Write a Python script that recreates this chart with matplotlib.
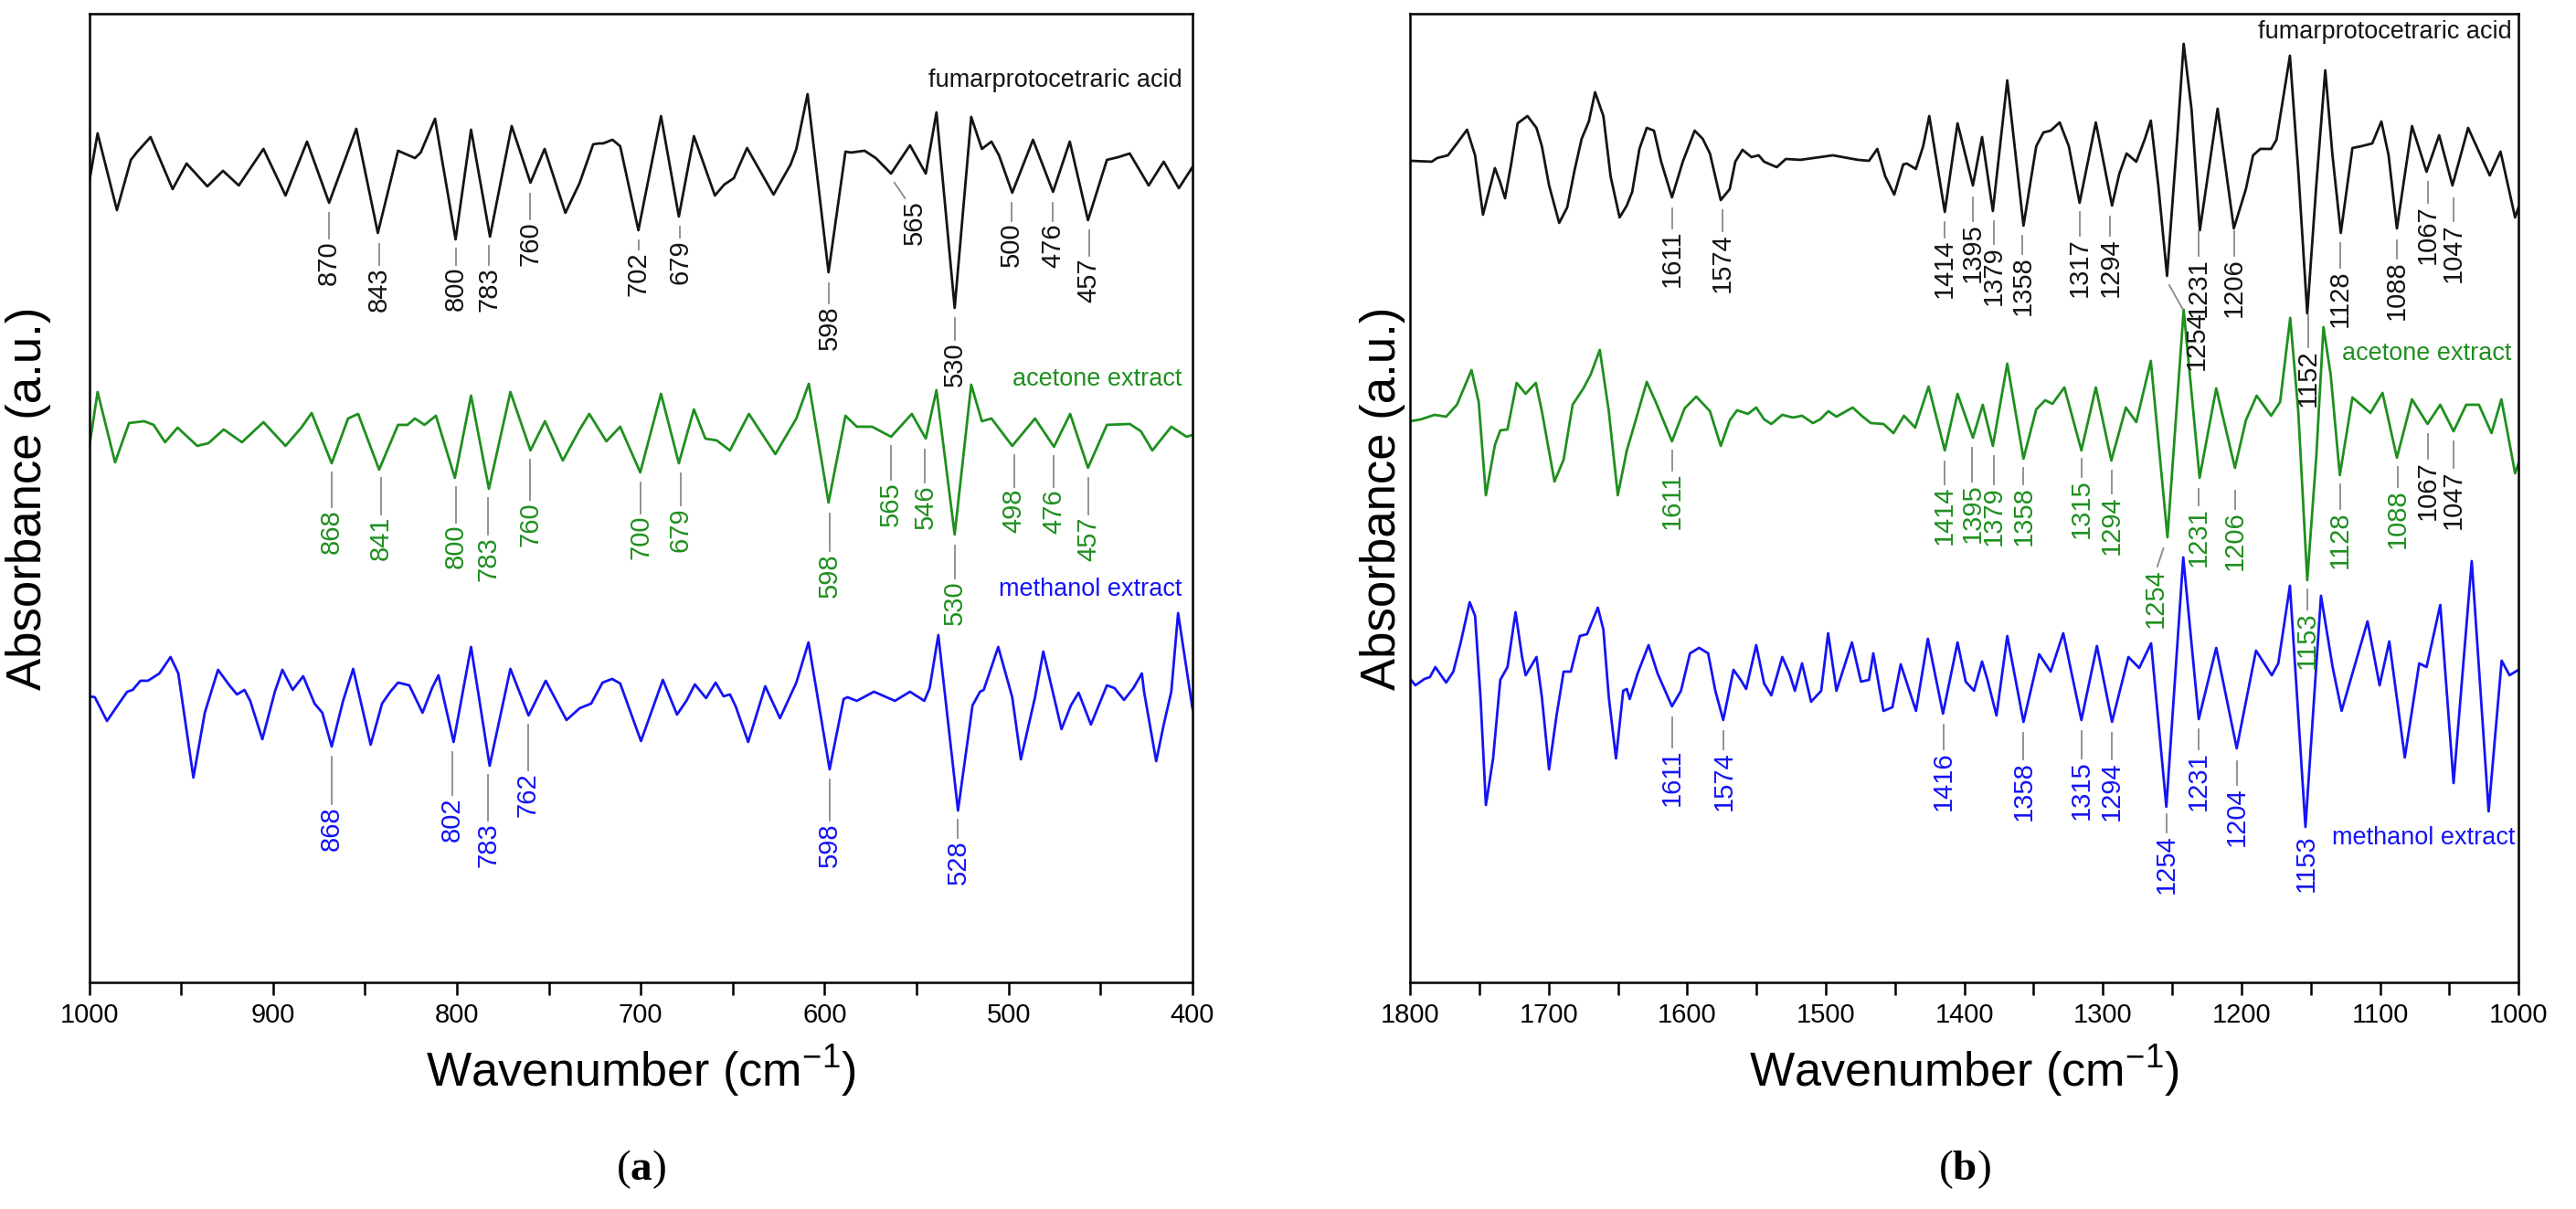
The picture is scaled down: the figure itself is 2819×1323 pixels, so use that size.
import matplotlib
matplotlib.use("Agg")
import matplotlib.pyplot as plt
from matplotlib.ticker import MultipleLocator

plt.rcParams["font.family"] = ["Liberation Sans", "DejaVu Sans"]
plt.rcParams["mathtext.fontset"] = "custom"
plt.rcParams["mathtext.rm"] = "Liberation Sans"
plt.rcParams["mathtext.bf"] = "Liberation Serif:bold"

BLACK = "#141414"
GREEN = "#1f8f1f"
BLUE = "#1414f5"
LEADER = "#8a8a8a"

# ---- panel (a): 1000-400 cm-1, (wavenumber, absorbance a.u.)
fpa_a = [(1000.0, 875), (995.4, 929), (984.9, 845), (977.3, 900), (974.2, 908), (966.6, 925),
         (954.6, 868), (947.0, 896), (935.7, 871), (927.2, 888), (918.6, 872), (905.2, 912),
         (893.2, 861), (881.5, 920), (869.5, 853), (854.7, 934), (843.0, 820), (832.0, 910),
         (822.8, 902), (819.7, 908), (811.9, 945), (800.7, 813), (792.3, 933), (782.0, 816),
         (770.2, 937), (760.0, 875), (752.3, 912), (741.0, 842), (733.2, 875), (725.9, 917),
         (722.9, 918), (720.5, 918), (715.4, 922), (711.2, 915), (701.3, 823), (689.0, 948),
         (679.3, 838), (671.1, 926), (659.7, 861), (654.6, 873), (649.4, 880), (642.2, 913),
         (627.8, 862), (618.5, 895), (615.4, 912), (609.3, 972), (597.9, 777), (588.7, 909),
         (585.6, 908), (578.3, 910), (572.2, 902), (563.9, 885), (553.6, 916), (545.0, 885),
         (539.2, 952), (529.3, 738), (520.3, 947), (514.5, 912), (509.3, 920), (505.2, 905),
         (498.0, 864), (486.7, 922), (475.8, 865), (466.7, 920), (456.8, 834), (446.5, 900),
         (440.3, 903), (434.1, 907), (423.8, 872), (415.6, 898), (407.4, 869), (400.0, 892)]

acetone_a = [(1000.0, 585), (995.4, 646), (985.9, 569), (978.3, 612), (970.1, 614), (964.9, 610),
             (958.7, 591), (951.9, 607), (941.2, 587), (935.1, 590), (926.8, 605), (916.9, 591),
             (905.2, 613), (893.2, 587), (884.6, 607), (879.0, 623), (868.1, 568), (859.2, 617),
             (853.7, 622), (842.3, 561), (832.0, 610), (826.9, 610), (822.8, 617), (817.6, 610),
             (811.4, 620), (801.1, 552), (792.3, 642), (782.6, 540), (770.9, 646), (760.0, 582),
             (752.1, 614), (742.4, 571), (733.2, 605), (728.0, 622), (718.7, 592), (711.2, 608),
             (700.3, 558), (689.0, 644), (679.3, 568), (671.1, 627), (664.9, 595), (658.7, 593),
             (651.5, 582), (641.2, 622), (626.8, 578), (615.4, 617), (608.6, 655), (597.9, 525),
             (588.7, 620), (582.5, 608), (574.2, 608), (563.9, 597), (552.6, 622), (545.0, 595),
             (539.2, 648), (529.3, 490), (520.3, 654), (514.5, 614), (509.3, 617), (498.0, 587),
             (485.6, 617), (475.3, 586), (466.5, 622), (456.8, 563), (446.5, 610), (434.1, 611),
             (428.0, 603), (421.8, 582), (411.5, 608), (403.2, 597), (400.0, 599)]

methanol_a = [(1000.0, 313), (996.9, 312), (990.3, 286), (984.5, 303), (979.3, 318), (976.3, 320),
              (972.1, 330), (968.0, 330), (961.8, 338), (955.7, 356), (951.5, 338), (943.3, 224),
              (937.1, 295), (929.9, 342), (923.7, 325), (919.6, 315), (915.5, 320), (912.4, 308),
              (905.8, 266), (899.0, 318), (894.9, 342), (889.3, 320), (883.6, 335), (877.4, 305),
              (873.2, 295), (868.1, 258), (861.9, 308), (856.4, 343), (846.9, 260), (840.7, 305),
              (836.2, 318), (832.0, 328), (825.9, 325), (818.7, 295), (813.5, 322), (810.0, 336),
              (801.8, 263), (792.3, 367), (782.2, 237), (770.9, 343), (761.0, 292), (751.7, 330),
              (740.4, 287), (733.2, 300), (727.0, 305), (720.8, 328), (715.6, 332), (711.2, 327),
              (699.9, 264), (688.0, 331), (680.3, 293), (675.2, 308), (670.6, 326), (664.5, 311),
              (659.3, 328), (655.0, 313), (651.5, 315), (648.4, 302), (641.6, 263), (632.3, 324),
              (624.3, 289), (615.4, 328), (608.8, 372), (597.3, 233), (589.7, 310), (587.6, 312),
              (582.5, 308), (573.2, 318), (561.8, 308), (553.6, 318), (545.8, 308), (542.9, 322),
              (538.2, 380), (527.5, 188), (519.6, 303), (515.5, 318), (513.5, 320), (505.6, 367),
              (498.0, 312), (493.3, 244), (485.6, 312), (481.1, 362), (471.2, 277), (466.1, 303),
              (461.9, 317), (455.2, 282), (446.5, 325), (442.4, 322), (437.2, 309), (432.1, 322),
              (427.5, 338), (426.3, 318), (419.7, 242), (415.6, 282), (411.5, 318), (407.8, 404),
              (400.0, 300)]

# ---- panel (b): 1800-1000 cm-1
fpa_b = [(1800.0, 899), (1784.4, 898), (1780.5, 902), (1772.7, 905), (1766.2, 918), (1758.9, 933),
         (1753.1, 905), (1747.4, 840), (1742.7, 868), (1738.8, 891), (1734.9, 875), (1731.5, 858),
         (1727.1, 895), (1722.4, 940), (1715.3, 948), (1708.8, 935), (1704.9, 915), (1699.7, 872),
         (1692.4, 831), (1686.6, 848), (1681.4, 888), (1676.2, 923), (1671.0, 942), (1666.5, 974),
         (1660.5, 948), (1655.3, 882), (1648.8, 837), (1643.6, 850), (1639.7, 865), (1634.5, 912),
         (1629.2, 935), (1624.0, 932), (1618.8, 898), (1611.0, 859), (1603.2, 898), (1594.6, 932),
         (1588.8, 923), (1583.6, 907), (1575.8, 856), (1569.3, 868), (1565.3, 898), (1560.1, 911),
         (1553.6, 903), (1548.4, 905), (1544.5, 898), (1535.4, 892), (1528.8, 901), (1518.4, 900),
         (1494.9, 905), (1476.7, 900), (1468.8, 899), (1462.8, 912), (1457.1, 882), (1450.6, 862),
         (1444.1, 895), (1441.5, 896), (1435.0, 890), (1429.7, 915), (1425.3, 948), (1414.1, 843),
         (1404.9, 940), (1393.8, 872), (1387.2, 925), (1379.4, 844), (1369.0, 987), (1357.3, 828),
         (1348.1, 915), (1342.9, 930), (1337.7, 932), (1331.2, 941), (1324.6, 915), (1316.8, 853),
         (1305.1, 941), (1293.4, 850), (1288.1, 885), (1282.9, 907), (1275.9, 898), (1269.9, 922),
         (1265.4, 943), (1260.0, 872), (1253.7, 773), (1246.4, 922), (1241.7, 1027), (1236.0, 955),
         (1230.0, 823), (1217.2, 956), (1205.5, 825), (1196.8, 868), (1191.6, 905), (1186.4, 912),
         (1178.6, 912), (1174.7, 922), (1165.0, 1014), (1159.0, 888), (1152.5, 732), (1146.0, 872),
         (1139.5, 998), (1134.3, 905), (1128.3, 820), (1119.9, 913), (1113.4, 915), (1105.6, 918),
         (1099.0, 942), (1093.8, 905), (1087.8, 825), (1076.9, 937), (1066.4, 887), (1057.3, 927),
         (1047.7, 872), (1036.4, 935), (1020.8, 883), (1013.0, 909), (1002.5, 837), (1000.0, 848)]

acetone_b = [(1800.0, 614), (1792.3, 616), (1782.4, 621), (1774.0, 619), (1766.2, 632), (1755.7, 670),
             (1750.5, 635), (1745.3, 533), (1738.8, 588), (1734.9, 604), (1729.7, 605), (1723.1, 656),
             (1716.6, 644), (1709.3, 656), (1704.9, 625), (1695.8, 548), (1689.2, 572), (1682.7, 632),
             (1674.9, 650), (1669.7, 665), (1663.1, 692), (1656.6, 625), (1650.1, 533), (1643.6, 582),
             (1639.7, 602), (1629.2, 657), (1622.7, 635), (1611.0, 592), (1601.9, 628), (1593.5, 641),
             (1583.6, 625), (1575.8, 587), (1569.3, 615), (1564.0, 626), (1556.2, 622), (1550.2, 629),
             (1544.5, 616), (1539.3, 611), (1531.4, 621), (1523.6, 618), (1517.1, 620), (1509.3, 612),
             (1504.1, 616), (1498.1, 625), (1492.3, 619), (1480.6, 629), (1474.1, 620), (1467.5, 612),
             (1458.4, 611), (1451.1, 601), (1443.6, 620), (1435.5, 607), (1425.8, 652), (1414.1, 582),
             (1404.9, 644), (1393.8, 596), (1386.7, 632), (1379.4, 587), (1369.0, 677), (1357.3, 573),
             (1348.1, 627), (1341.6, 637), (1336.4, 633), (1327.8, 651), (1315.5, 582), (1305.1, 651),
             (1293.9, 571), (1283.4, 629), (1275.9, 613), (1265.4, 680), (1253.4, 487), (1241.7, 736),
             (1230.2, 552), (1218.2, 650), (1204.7, 563), (1196.8, 615), (1189.0, 642), (1178.6, 620),
             (1172.1, 635), (1164.8, 727), (1159.0, 625), (1152.5, 440), (1146.0, 575), (1140.8, 717),
             (1135.6, 665), (1129.0, 555), (1119.9, 640), (1106.9, 623), (1098.2, 645), (1087.8, 574),
             (1076.9, 638), (1065.7, 611), (1056.5, 632), (1046.9, 603), (1037.8, 632), (1028.6, 632),
             (1019.5, 601), (1012.4, 638), (1002.5, 557), (1000.0, 568)]

methanol_b = [(1800.0, 332), (1796.2, 325), (1789.6, 332), (1785.7, 334), (1781.8, 345), (1774.0, 328),
              (1768.8, 340), (1763.6, 371), (1757.0, 416), (1753.1, 401), (1749.2, 312), (1745.3, 194),
              (1740.1, 245), (1734.9, 331), (1729.7, 345), (1723.9, 405), (1719.2, 356), (1716.6, 336),
              (1708.8, 356), (1704.9, 312), (1699.7, 233), (1694.5, 290), (1689.2, 340), (1684.0, 340),
              (1677.5, 379), (1672.3, 381), (1664.5, 410), (1660.5, 386), (1656.6, 312), (1651.4, 245),
              (1646.2, 319), (1643.6, 321), (1641.5, 310), (1635.8, 338), (1627.9, 369), (1621.4, 338),
              (1611.0, 302), (1604.5, 319), (1598.0, 360), (1591.4, 366), (1584.9, 360), (1579.7, 319),
              (1574.0, 287), (1566.6, 342), (1561.4, 331), (1557.5, 321), (1550.2, 369), (1544.5, 327),
              (1539.3, 314), (1534.0, 342), (1531.4, 356), (1526.2, 338), (1522.3, 319), (1517.1, 349),
              (1510.6, 307), (1503.3, 319), (1498.3, 382), (1492.3, 319), (1481.1, 372), (1474.6, 329),
              (1468.8, 331), (1465.7, 360), (1458.4, 297), (1451.9, 301), (1445.9, 348), (1434.9, 297),
              (1426.3, 376), (1415.4, 294), (1404.9, 372), (1399.0, 329), (1393.0, 319), (1387.2, 351),
              (1383.3, 331), (1376.8, 292), (1369.0, 379), (1357.3, 285), (1346.0, 359), (1337.7, 340),
              (1328.6, 382), (1315.5, 287), (1304.3, 368), (1293.4, 285), (1281.6, 356), (1273.8, 344),
              (1265.2, 371), (1254.2, 192), (1242.0, 465), (1230.8, 288), (1218.2, 366), (1203.4, 256),
              (1189.5, 363), (1178.1, 336), (1173.4, 349), (1165.0, 434), (1153.8, 170), (1142.6, 423),
              (1134.2, 345), (1127.7, 297), (1119.9, 338), (1109.0, 395), (1100.3, 325), (1093.3, 373),
              (1082.1, 246), (1071.7, 349), (1066.4, 345), (1056.5, 413), (1046.9, 218), (1033.8, 461),
              (1021.6, 187), (1012.2, 352), (1006.5, 336), (1000.0, 342)]

# peak labels: (text, leader x0, y0, leader x1, y1[, text x])
peaks_fpa_a = [("870", 869.5, 842, 869.5, 814), ("843", 842.4, 808, 842.4, 785),
               ("800", 800.5, 803, 800.5, 785), ("783", 782.6, 806, 782.6, 785),
               ("760", 760.0, 863, 760.0, 835), ("702", 701.3, 812, 701.3, 802),
               ("679", 678.7, 827, 678.7, 815), ("598", 597.5, 765, 597.5, 743),
               ("565", 562.0, 875, 556.3, 858, 551.0), ("530", 529.3, 727, 529.3, 703),
               ("500", 498.6, 853, 498.6, 833), ("476", 475.8, 853, 475.8, 833),
               ("457", 456.2, 823, 456.2, 795)]
peaks_acetone_a = [("868", 868.1, 558, 868.1, 520), ("841", 841.3, 552, 841.3, 512),
                   ("800", 800.5, 542, 800.5, 503), ("783", 783.0, 530, 783.0, 490),
                   ("760", 760.0, 572, 760.0, 528), ("700", 699.9, 547, 699.9, 513),
                   ("679", 678.3, 557, 678.3, 522), ("598", 597.3, 513, 597.3, 472),
                   ("565", 563.9, 587, 563.9, 550), ("546", 545.4, 583, 545.4, 547),
                   ("530", 529.3, 478, 529.3, 442), ("498", 497.0, 577, 497.0, 542),
                   ("476", 475.4, 576, 475.4, 542), ("457", 456.4, 552, 456.4, 512)]
peaks_methanol_a = [("868", 868.1, 247, 868.1, 195), ("802", 802.6, 252, 802.6, 205),
                    ("783", 783.0, 227, 783.0, 177), ("762", 761.4, 282, 761.4, 232),
                    ("598", 597.3, 222, 597.3, 177), ("528", 527.5, 178, 527.5, 158)]

peaks_fpa_b = [("1611", 1611.0, 847, 1611.0, 825), ("1574", 1574.5, 845, 1574.5, 822),
               ("1414", 1414.1, 832, 1414.1, 815), ("1395", 1393.8, 859, 1393.8, 833),
               ("1379", 1378.9, 833, 1378.9, 808), ("1358", 1358.0, 817, 1358.0, 797),
               ("1317", 1316.8, 843, 1316.8, 817), ("1294", 1294.7, 838, 1294.7, 817),
               ("1254", 1252.1, 763, 1242.5, 737, 1232.1), ("1231", 1230.8, 822, 1230.8, 795),
               ("1206", 1205.5, 822, 1205.5, 795), ("1152", 1152.0, 730, 1152.0, 695),
               ("1128", 1129.0, 809, 1129.0, 782), ("1088", 1087.8, 812, 1087.8, 792),
               ("1067", 1065.7, 876, 1065.7, 853), ("1047", 1046.9, 858, 1046.9, 833)]
peaks_acetone_b = [("1611", 1611.0, 582, 1611.0, 560), ("1414", 1414.1, 570, 1414.1, 545),
                   ("1395", 1394.3, 585, 1394.3, 548), ("1379", 1378.9, 576, 1378.9, 545),
                   ("1358", 1357.3, 563, 1357.3, 545), ("1315", 1315.5, 573, 1315.5, 553),
                   ("1294", 1293.9, 560, 1293.9, 535), ("1254", 1256.3, 475, 1260.7, 455, 1262.1),
                   ("1231", 1230.8, 540, 1230.8, 522), ("1206", 1204.7, 538, 1204.7, 518),
                   ("1153", 1152.5, 430, 1152.5, 408), ("1128", 1129.0, 545, 1129.0, 518),
                   ("1088", 1087.3, 564, 1087.3, 542)]
peaks_acetone_b_black = [("1067", 1065.7, 600, 1065.7, 573), ("1047", 1046.9, 592, 1046.9, 563)]
peaks_methanol_b = [("1611", 1611.0, 290, 1611.0, 257), ("1574", 1573.7, 275, 1573.7, 255),
                    ("1416", 1414.9, 282, 1414.9, 255), ("1358", 1357.3, 273, 1357.3, 244),
                    ("1315", 1315.5, 275, 1315.5, 245), ("1294", 1293.9, 273, 1293.9, 244),
                    ("1254", 1254.2, 184, 1254.2, 164), ("1231", 1230.8, 277, 1230.8, 255),
                    ("1204", 1203.4, 242, 1203.4, 216), ("1153", 1153.3, 166, 1153.3, 164)]

names = ["fumarprotocetraric acid", "acetone extract", "methanol extract"]


def draw_curve(ax, pts, color):
    x, y = zip(*pts)
    ax.plot(x, y, color=color, lw=2.0, solid_joinstyle="round")


def draw_peaks(ax, peaks, color):
    for p in peaks:
        text, x0, y0, x1, y1 = p[:5]
        xt = p[5] if len(p) > 5 else x1
        if y0 != y1 + 2:
            ax.plot([x0, x1], [y0, y1], color=LEADER, lw=1.3)
        ax.text(xt, y1 - 2, text, rotation=90, ha="center", va="top",
                fontsize=21, color=color)


def style_axes(ax, xmax, xmin, ypad):
    ax.set_xlim(xmax, xmin)
    ax.set_ylim(0, 1060)
    ax.xaxis.set_major_locator(MultipleLocator(100))
    ax.xaxis.set_minor_locator(MultipleLocator(50))
    ax.tick_params(axis="x", which="major", direction="out", length=10, width=1.8,
                   labelsize=21, pad=6)
    ax.tick_params(axis="x", which="minor", direction="out", length=10, width=1.8)
    ax.tick_params(axis="y", left=False, labelleft=False)
    for s in ax.spines.values():
        s.set_linewidth(1.8)
    ax.set_xlabel("Wavenumber (cm$^{-1}$)", fontsize=37.5, labelpad=12)
    ax.set_ylabel("Absorbance (a.u.)", fontsize=38, labelpad=ypad)


fig = plt.figure(figsize=(28.19, 13.23), dpi=100)
ax_a = fig.add_axes([0.0346, 0.1875, 0.4283, 0.8012])
ax_b = fig.add_axes([0.5474, 0.1875, 0.4303, 0.8012])

# panel (a)
draw_curve(ax_a, fpa_a, BLACK)
draw_curve(ax_a, acetone_a, GREEN)
draw_curve(ax_a, methanol_a, BLUE)
draw_peaks(ax_a, peaks_fpa_a, BLACK)
draw_peaks(ax_a, peaks_acetone_a, GREEN)
draw_peaks(ax_a, peaks_methanol_a, BLUE)
ax_a.text(405.5, 987, names[0], ha="right", va="center", fontsize=19.5, color=BLACK)
ax_a.text(405.5, 660, names[1], ha="right", va="center", fontsize=19.5, color=GREEN)
ax_a.text(405.5, 430, names[2], ha="right", va="center", fontsize=19.5, color=BLUE)
style_axes(ax_a, 1000, 400, 30)

# panel (b)
draw_curve(ax_b, fpa_b, BLACK)
draw_curve(ax_b, acetone_b, GREEN)
draw_curve(ax_b, methanol_b, BLUE)
draw_peaks(ax_b, peaks_fpa_b, BLACK)
draw_peaks(ax_b, peaks_acetone_b, GREEN)
draw_peaks(ax_b, peaks_acetone_b_black, BLACK)
draw_peaks(ax_b, peaks_methanol_b, BLUE)
ax_b.text(1005.1, 1040, names[0], ha="right", va="center", fontsize=19.5, color=BLACK)
ax_b.text(1005.1, 688, names[1], ha="right", va="center", fontsize=19.5, color=GREEN)
ax_b.text(1002.5, 158, names[2], ha="right", va="center", fontsize=19.5, color=BLUE)
style_axes(ax_b, 1800, 1000, 4)

fig.text(0.2487, 0.0325, r"($\mathbf{a}$)", family="Liberation Serif", fontsize=34,
         ha="center", va="center")
fig.text(0.7626, 0.0325, r"($\mathbf{b}$)", family="Liberation Serif", fontsize=34,
         ha="center", va="center")

fig.savefig("out.png", dpi=100)
plt.close(fig)
